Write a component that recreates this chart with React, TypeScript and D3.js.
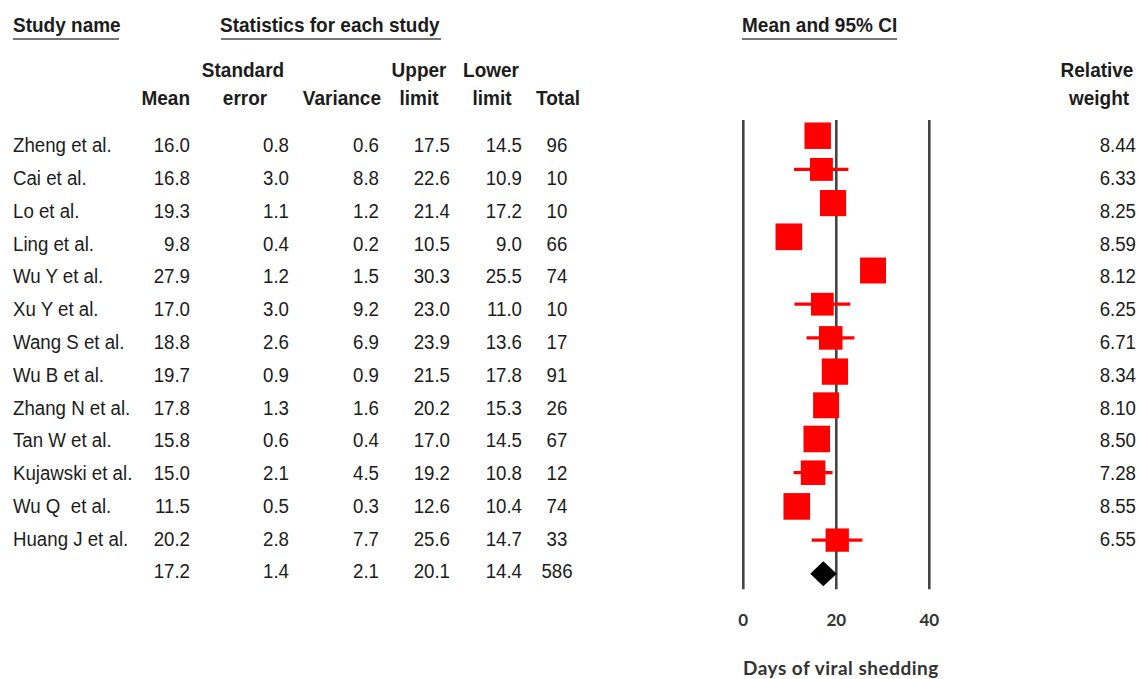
import React from "react";
import * as d3 from "d3";

const studies = [
  "Zheng et al.", "Cai et al.", "Lo et al.", "Ling et al.", "Wu Y et al.", "Xu Y et al.",
  "Wang S et al.", "Wu B et al.", "Zhang N et al.", "Tan W et al.", "Kujawski et al.",
  "Wu Q  et al.", "Huang J et al.",
];
const means = [16.0, 16.8, 19.3, 9.8, 27.9, 17.0, 18.8, 19.7, 17.8, 15.8, 15.0, 11.5, 20.2];
const stdErrors = [0.8, 3.0, 1.1, 0.4, 1.2, 3.0, 2.6, 0.9, 1.3, 0.6, 2.1, 0.5, 2.8];
const variances = [0.6, 8.8, 1.2, 0.2, 1.5, 9.2, 6.9, 0.9, 1.6, 0.4, 4.5, 0.3, 7.7];
const upperLimits = [17.5, 22.6, 21.4, 10.5, 30.3, 23.0, 23.9, 21.5, 20.2, 17.0, 19.2, 12.6, 25.6];
const lowerLimits = [14.5, 10.9, 17.2, 9.0, 25.5, 11.0, 13.6, 17.8, 15.3, 14.5, 10.8, 10.4, 14.7];
const totals = [96, 10, 10, 66, 74, 10, 17, 91, 26, 67, 12, 74, 33];
const weights = [8.44, 6.33, 8.25, 8.59, 8.12, 6.25, 6.71, 8.34, 8.10, 8.50, 7.28, 8.55, 6.55];

const pooledMean = 17.2;
const pooledSE = 1.4;
const pooledVar = 2.1;
const pooledUpper = 20.1;
const pooledLower = 14.4;
const pooledTotal = 586;

const xTicks = [0, 20, 40];

const REG = "'Liberation Sans', Arial, sans-serif";
const AX = "Lato, 'Open Sans', sans-serif";
const TXT = "#1c1c1c";
const SX = 0.89;
const BSX = 0.95;

function T({ x, y, anchor = "start", bold = false, size, children }: any) {
  const s = size ?? (bold ? 20 : 21);
  const sx = bold ? BSX : SX;
  return (
    <text
      transform={`translate(${x},${y}) scale(${sx},1)`}
      textAnchor={anchor}
      fontFamily={REG}
      fontWeight={bold ? "bold" : "normal"}
      fontSize={s}
      fill={TXT}
      style={{ whiteSpace: "pre" }}
    >
      {children}
    </text>
  );
}

export default function App() {
  const x = d3.scaleLinear().domain([0, 40]).range([743.3, 929.3]);
  const n = studies.length;
  const yPlot = d3.scaleLinear().domain([0, 13]).range([135.7, 573.8]);
  const yText = d3.scaleLinear().domain([0, 12]).range([152.3, 545.7]);
  const side = d3.scaleSqrt().domain([0, 8.59]).range([0, 26.7]);

  const fmt = d3.format(".1f");
  const fmt2 = d3.format(".2f");

  const cols = [
    { vals: means, x: 190, anchor: "end", f: fmt, pooled: pooledMean },
    { vals: stdErrors, x: 289, anchor: "end", f: fmt, pooled: pooledSE },
    { vals: variances, x: 379, anchor: "end", f: fmt, pooled: pooledVar },
    { vals: upperLimits, x: 450, anchor: "end", f: fmt, pooled: pooledUpper },
    { vals: lowerLimits, x: 522, anchor: "end", f: fmt, pooled: pooledLower },
    { vals: totals, x: 557, anchor: "middle", f: (v: number) => String(v), pooled: pooledTotal },
  ];

  const plotTop = 120;
  const plotBottom = 589.3;
  const dy = yPlot(13);
  const dh = 12.5;
  const diamond = `M${x(pooledLower)},${dy} L${x(pooledMean)},${dy - dh} L${x(pooledUpper)},${dy} L${x(pooledMean)},${dy + dh} Z`;

  return (
    <svg
      width={1139}
      height={679}
      style={{ position: "absolute", left: 0, top: 0, background: "#fff" }}
    >
      <rect x={0} y={0} width={1139} height={679} fill="#fff" />
      {/* section headers */}
      <T x={13} y={31.7} bold>Study name</T>
      <line x1={13} x2={119} y1={39} y2={39} stroke="#777" strokeWidth={2} />
      <T x={220} y={31.7} bold>Statistics for each study</T>
      <line x1={221} x2={441} y1={39} y2={39} stroke="#777" strokeWidth={2} />
      <T x={742} y={31.7} bold>Mean and 95% CI</T>
      <line x1={742} x2={897} y1={39} y2={39} stroke="#777" strokeWidth={2} />

      {/* column headers */}
      <T x={190} y={105} anchor="end" bold>Mean</T>
      <T x={243} y={77} anchor="middle" bold>Standard</T>
      <T x={245} y={105} anchor="middle" bold>error</T>
      <T x={381} y={105} anchor="end" bold>Variance</T>
      <T x={419} y={77} anchor="middle" bold>Upper</T>
      <T x={419} y={105} anchor="middle" bold>limit</T>
      <T x={491} y={77} anchor="middle" bold>Lower</T>
      <T x={492} y={105} anchor="middle" bold>limit</T>
      <T x={558} y={105} anchor="middle" bold>Total</T>
      <T x={1097} y={77} anchor="middle" bold>Relative</T>
      <T x={1099} y={105} anchor="middle" bold>weight</T>

      {/* table rows */}
      {studies.map((s, i) => (
        <T key={"n" + i} x={13} y={yText(i)}>{s}</T>
      ))}
      {cols.map((c, ci) => (
        <g key={"c" + ci}>
          {c.vals.map((v, i) => (
            <T key={i} x={c.x} y={yText(i)} anchor={c.anchor}>{c.f(v)}</T>
          ))}
          <T x={c.x} y={yText(n)} anchor={c.anchor}>{c.f(c.pooled)}</T>
        </g>
      ))}
      {weights.map((w, i) => (
        <T key={"w" + i} x={1136} y={yText(i)} anchor="end">{fmt2(w)}</T>
      ))}

      {/* forest plot reference lines */}
      {xTicks.map((t) => (
        <line
          key={"v" + t}
          x1={x(t)}
          x2={x(t)}
          y1={plotTop}
          y2={plotBottom}
          stroke="#444"
          strokeWidth={2.6}
        />
      ))}

      {/* CI lines and squares */}
      {means.map((m, i) => {
        const cy = yPlot(i);
        const sd = side(weights[i]);
        return (
          <g key={"p" + i}>
            <line
              x1={x(lowerLimits[i])}
              x2={x(upperLimits[i])}
              y1={cy}
              y2={cy}
              stroke="#ff0000"
              strokeWidth={3.2}
            />
            <rect x={x(m) - sd / 2} y={cy - sd / 2} width={sd} height={sd} fill="#ff0000" />
          </g>
        );
      })}
      <path d={diamond} fill="#000" />

      {/* axis labels */}
      {xTicks.map((t) => (
        <text
          key={"t" + t}
          x={x(t)}
          y={626}
          textAnchor="middle"
          fontFamily={AX}
          fontWeight="bold"
          fontSize={17}
          fill="#333"
        >
          {t}
        </text>
      ))}
      <text
        x={743}
        y={675}
        fontFamily={AX}
        fontWeight="bold"
        fontSize={19}
        letterSpacing={0.5}
        fill="#333"
      >
        Days of viral shedding
      </text>
    </svg>
  );
}
